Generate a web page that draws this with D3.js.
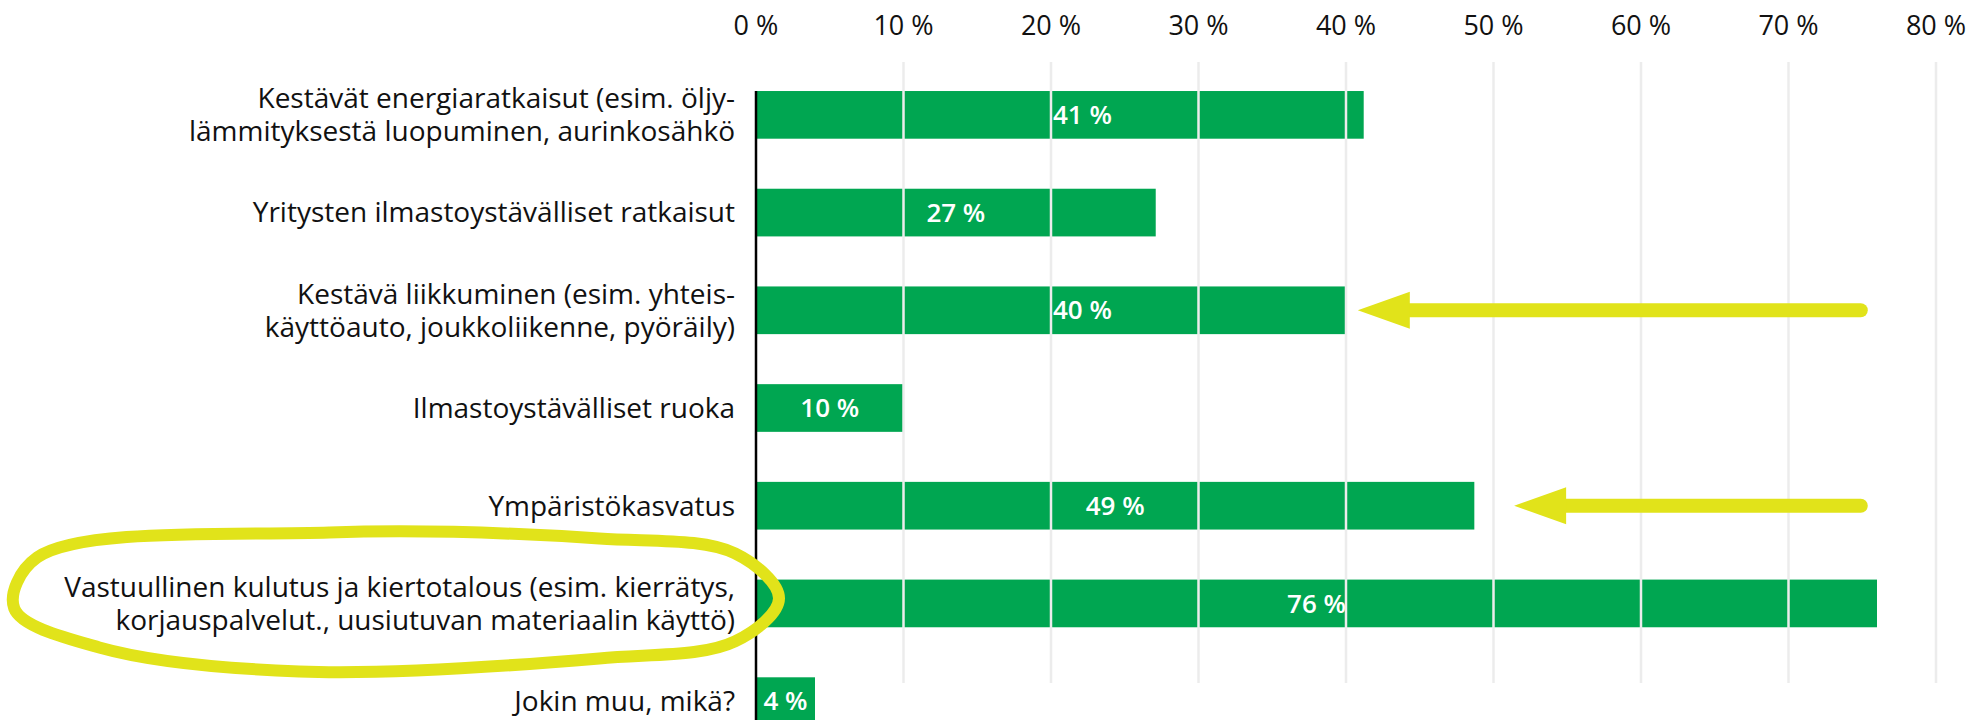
<!DOCTYPE html>
<html>
<head>
<meta charset="utf-8">
<script src="https://cdn.jsdelivr.net/npm/d3@7"></script>
<style>
body { margin: 0; background: #fff; }
text { font-family: "Open Sans", Lato, sans-serif; }
</style>
</head>
<body>
<div id="viz"></div>
<script>
'use strict';

const categories = [
    "Kestävät energiaratkaisut (esim. öljy-\nlämmityksestä luopuminen, aurinkosähkö",
    "Yritysten ilmastoystävälliset ratkaisut",
    "Kestävä liikkuminen (esim. yhteis-\nkäyttöauto, joukkoliikenne, pyöräily)",
    "Ilmastoystävälliset ruoka",
    "Ympäristökasvatus",
    "Vastuullinen kulutus ja kiertotalous (esim. kierrätys,\nkorjauspalvelut., uusiutuvan materiaalin käyttö)",
    "Jokin muu, mikä?"
];
const values = [41.2, 27.1, 40, 10, 48.7, 76, 4];
const valueLabels = ["41 %", "27 %", "40 %", "10 %", "49 %", "76 %", "4 %"];
const ticks = [0, 10, 20, 30, 40, 50, 60, 70, 80];
const tickLabels = ["0 %", "10 %", "20 %", "30 %", "40 %", "50 %", "60 %", "70 %", "80 %"];

// annotations: arrows on rows (tip / tail in % units), circled label row
const arrowRows = [2, 4];
const arrowTips = [40.8, 51.4];
const arrowTails = [74.9, 74.9];
const circledRow = 5;

const width = 1984;
const height = 720;
const green = "#00a651";
const yellow = "#e1e31a";

const svg = d3.select("#viz")
    .append("svg")
    .attr("width", width)
    .attr("height", height);

const x = d3.scaleLinear()
    .domain([0, 80])
    .range([756, 1936]);

const y = d3.scaleBand()
    .domain(d3.range(categories.length))
    .range([66, 750])
    .paddingInner(0.512)
    .paddingOuter(0.256);

// bars
svg.append("g")
    .selectAll("rect")
    .data(values)
    .enter()
    .append("rect")
    .attr("x", x(0))
    .attr("y", (d, i) => y(i))
    .attr("width", d => x(d) - x(0))
    .attr("height", y.bandwidth())
    .attr("fill", green);

// gridlines drawn over the bars
svg.append("g")
    .selectAll("line")
    .data(ticks.slice(1))
    .enter()
    .append("line")
    .attr("x1", d => x(d))
    .attr("x2", d => x(d))
    .attr("y1", 62)
    .attr("y2", 683)
    .attr("stroke", "#ececec")
    .attr("stroke-width", 2.5);

// axis line
svg.append("line")
    .attr("x1", x(0))
    .attr("x2", x(0))
    .attr("y1", y(0))
    .attr("y2", height)
    .attr("stroke", "#000")
    .attr("stroke-width", 2.5);

// tick labels
svg.append("g")
    .selectAll("text")
    .data(ticks)
    .enter()
    .append("text")
    .attr("x", d => x(d))
    .attr("y", 35)
    .attr("text-anchor", "middle")
    .attr("font-size", 27)
    .attr("fill", "#111")
    .text((d, i) => tickLabels[i]);

// category labels
const fs = 28;
const catLabels = svg.append("g")
    .selectAll("text")
    .data(categories)
    .enter()
    .append("text")
    .attr("text-anchor", "end")
    .attr("font-size", fs)
    .attr("fill", "#111")
    .attr("y", (d, i) => y(i) + y.bandwidth() / 2);

catLabels.each(function(d) {
    let lines = d.split("\n");
    let t = d3.select(this);
    let lh = 33;
    lines.forEach((line, k) => {
        t.append("tspan")
            .attr("x", 735)
            .attr("dy", k === 0 ? (0.35 * fs - (lines.length - 1) * lh / 2) : lh)
            .text(line);
    });
});

// value labels, nudged off any gridline they would straddle
const valText = svg.append("g")
    .selectAll("text")
    .data(values)
    .enter()
    .append("text")
    .attr("y", (d, i) => y(i) + y.bandwidth() / 2)
    .attr("dy", "0.35em")
    .attr("text-anchor", "start")
    .attr("font-size", 26)
    .attr("font-weight", 600)
    .attr("fill", "#fff")
    .text((d, i) => valueLabels[i]);

valText.each(function(d) {
    let w = this.getComputedTextLength();
    let mid = (x(0) + x(d)) / 2;
    let left = mid - w / 2;
    ticks.slice(1).forEach(t => {
        let g = x(t);
        if (left < g && left + w > g) {
            left = mid >= g ? g + 2 : g - 2 - w;
        }
    });
    d3.select(this).attr("x", left);
});

// arrows
arrowRows.forEach((row, k) => {
    let yc = y(row) + y.bandwidth() / 2;
    let tip = x(arrowTips[k]);
    let headLen = 52;
    let headHalf = 18.5;
    svg.append("line")
        .attr("x1", x(arrowTails[k]))
        .attr("x2", tip + headLen - 2)
        .attr("y1", yc)
        .attr("y2", yc)
        .attr("stroke", yellow)
        .attr("stroke-width", 14)
        .attr("stroke-linecap", "round");
    svg.append("path")
        .attr("d", `M${tip},${yc}L${tip + headLen},${yc - headHalf}L${tip + headLen},${yc + headHalf}Z`)
        .attr("fill", yellow);
});

// hand-drawn loop round the circled label
const bb = catLabels.filter((d, i) => i === circledRow).node().getBBox();
const x0 = bb.x, x1 = bb.x + bb.width;
const yc = y(circledRow) + y.bandwidth() / 2;
const loopPts = [
    [x0 - 27, yc - 46],
    [x0 + 265, yc - 71],
    [x0 + 535, yc - 65],
    [x1, yc - 50],
    [x1 + 44, yc - 5],
    [x1, yc + 38],
    [x0 + 535, yc + 55],
    [x0 + 235, yc + 68],
    [x0 + 35, yc + 44],
    [x0 - 50, yc + 5]
];
svg.append("path")
    .attr("d", d3.line().curve(d3.curveCatmullRomClosed.alpha(0.5))(loopPts))
    .attr("fill", "none")
    .attr("stroke", yellow)
    .attr("stroke-width", 12);
</script>
</body>
</html>
